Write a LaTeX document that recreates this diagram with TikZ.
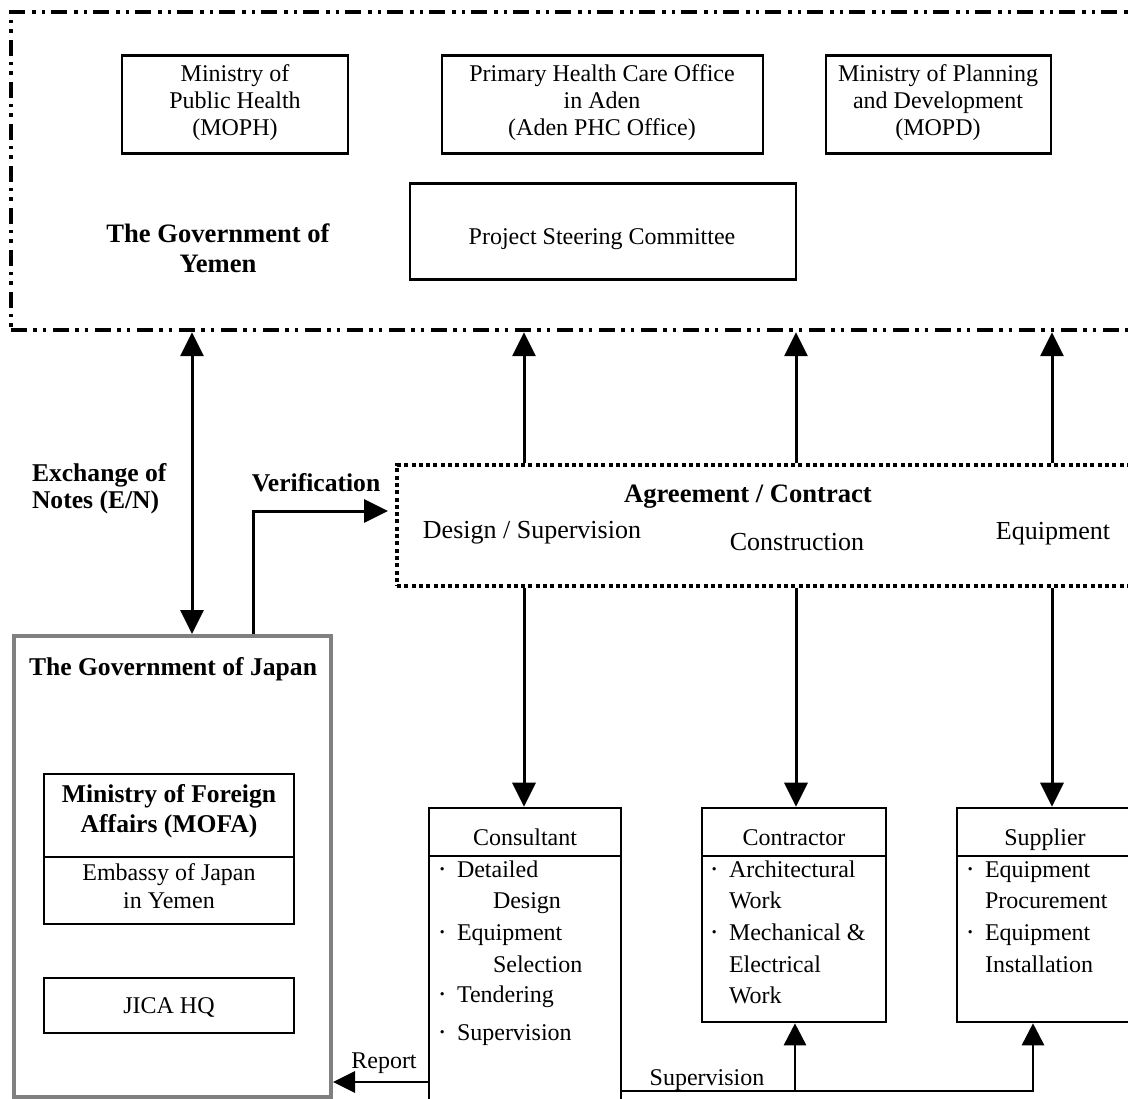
\documentclass[tikz,border=0pt]{standalone}
\usepackage{fontspec}
\setmainfont{Liberation Serif}
\usetikzlibrary{arrows.meta}
\newcommand{\mybul}{\llap{\raisebox{-1pt}{\fontsize{28}{28}\selectfont ·}\hspace{10pt}}}
\begin{document}
\begin{tikzpicture}[x=1pt,y=-1pt,
  frame/.style={draw, line width=2.6pt, inner sep=0pt},
  rt/.style={inner sep=0pt, outer sep=0pt, font=\fontsize{24}{27}\selectfont},
  bt/.style={inner sep=0pt, outer sep=0pt, font=\fontsize{25.6}{29}\selectfont\bfseries},
  bbig/.style={inner sep=0pt, outer sep=0pt, font=\fontsize{26.6}{30}\selectfont\bfseries},
  rbig/.style={inner sep=0pt, outer sep=0pt, font=\fontsize{26}{30}\selectfont},
  arr/.style={-{Triangle[length=24pt,width=23pt]}},
  conn/.style={line width=3pt, arr},
]
\useasboundingbox (0,0) rectangle (1128,1099);
\clip (0,0) rectangle (1128,1099);
\fill[white] (0,0) rectangle (1128,1099);

% ---------- Government of Yemen ----------
\node[frame, line width=4.5pt, dash pattern=on 16pt off 6pt on 3.5pt off 6pt on 3.5pt off 7pt,
      minimum width=1150pt, minimum height=318pt] (yemen) at (586,171) {};
\node[frame, minimum width=226pt, minimum height=98pt] (moph) at (235,104.5) {};
\node[frame, minimum width=321pt, minimum height=98pt] (phc) at (602.5,104.5) {};
\node[frame, minimum width=225pt, minimum height=98pt] (mopd) at (938.5,104.5) {};
\node[frame, minimum width=386pt, minimum height=96pt] (psc) at (603,231.5) {};

\node[rt, anchor=base] (moph1) at (235,82) {Ministry of};
\node[rt, anchor=base] (moph2) at (235,109) {Public Health};
\node[rt, anchor=base] (moph3) at (235,136) {(MOPH)};
\node[rt, anchor=base] (phc1) at (602,82) {Primary Health Care Office};
\node[rt, anchor=base] (phc2) at (602,109) {in Aden};
\node[rt, anchor=base] (phc3) at (602,136) {(Aden PHC Office)};
\node[rt, anchor=base] (mopd1) at (938,82) {Ministry of Planning};
\node[rt, anchor=base] (mopd2) at (938,109) {and Development};
\node[rt, anchor=base] (mopd3) at (938,136) {(MOPD)};
\node[rt, anchor=base] (psct) at (602,245) {Project Steering Committee};
\node[bbig, anchor=base] (gy1) at (218,243) {The Government of};
\node[bbig, anchor=base] (gy2) at (218,273) {Yemen};

% ---------- Agreement / Contract ----------
\node[draw, line width=3.5pt, dash pattern=on 4pt off 3.3pt, inner sep=0pt,
      minimum width=770pt, minimum height=121pt] (agr) at (782,525.5) {};
\node[bbig, anchor=base] (agrt) at (748,502) {Agreement / Contract};
\node[rbig, anchor=base] (ds) at (532,538) {Design / Supervision};
\node[rbig, anchor=base] (cn) at (797,550) {Construction};
\node[rbig, anchor=base] (eq) at (1053,539) {Equipment};

% ---------- Government of Japan ----------
\node[draw=gray, line width=4pt, inner sep=0pt, minimum width=317pt, minimum height=461pt] (japan) at (172.5,866.5) {};
\node[bt, anchor=base] (gj) at (173,675) {The Government of Japan};
\node[frame, minimum width=250pt, minimum height=83pt] (mofa) at (169,815.5) {};
\node[frame, minimum width=250pt, minimum height=67pt] (emb) at (169,890.5) {};
\node[frame, minimum width=250pt, minimum height=55pt] (jica) at (169,1005.5) {};
\node[bt, anchor=base] (mofa1) at (169,802) {Ministry of Foreign};
\node[bt, anchor=base] (mofa2) at (169,832) {Affairs (MOFA)};
\node[rt, anchor=base] (emb1) at (169,880) {Embassy of Japan};
\node[rt, anchor=base] (emb2) at (169,908) {in Yemen};
\node[rt, anchor=base] (jicat) at (169,1013) {JICA HQ};

% ---------- Consultant / Contractor / Supplier ----------
\node[frame, minimum width=192pt, minimum height=48pt] (conh) at (525,832) {};
\node[frame, minimum width=192pt, minimum height=264pt] (conb) at (525,988) {};
\node[frame, minimum width=184pt, minimum height=48pt] (cnth) at (794,832) {};
\node[frame, minimum width=184pt, minimum height=166pt] (cntb) at (794,939) {};
\node[frame, minimum width=173pt, minimum height=48pt] (suph) at (1043.5,832) {};
\node[frame, minimum width=173pt, minimum height=166pt] (supb) at (1043.5,939) {};

\node[rt, anchor=base] (conht) at (525,845) {Consultant};
\node[rt, anchor=base west] (c1) at (457,877) {\mybul Detailed};
\node[rt, anchor=base west] (c2) at (493,908) {Design};
\node[rt, anchor=base west] (c3) at (457,940) {\mybul Equipment};
\node[rt, anchor=base west] (c4) at (493,972) {Selection};
\node[rt, anchor=base west] (c5) at (457,1002) {\mybul Tendering};
\node[rt, anchor=base west] (c6) at (457,1040) {\mybul Supervision};

\node[rt, anchor=base] (cntht) at (794,845) {Contractor};
\node[rt, anchor=base west] (k1) at (729,877) {\mybul Architectural};
\node[rt, anchor=base west] (k2) at (729,908) {Work};
\node[rt, anchor=base west] (k3) at (729,940) {\mybul Mechanical \&};
\node[rt, anchor=base west] (k4) at (729,972) {Electrical};
\node[rt, anchor=base west] (k5) at (729,1003) {Work};

\node[rt, anchor=base] (supht) at (1045,845) {Supplier};
\node[rt, anchor=base west] (s1) at (985,877) {\mybul Equipment};
\node[rt, anchor=base west] (s2) at (985,908) {Procurement};
\node[rt, anchor=base west] (s3) at (985,940) {\mybul Equipment};
\node[rt, anchor=base west] (s4) at (985,972) {Installation};

% ---------- labels ----------
\node[bt, anchor=base west] (ex1) at (32,482) {Exchange of};
\node[bt, anchor=base west] (ex2) at (32,508) {Notes (E/N)};
\node[bt, anchor=base] (ver) at (316,491) {Verification};
\node[rt, anchor=base] (rep) at (384,1068) {Report};
\node[rt, anchor=base] (sup) at (707,1085) {Supervision};

% ---------- connectors ----------
\coordinate (xe) at (192,0);
\coordinate (xv) at (253,0);
\coordinate (xd) at (524,0);
\coordinate (xc) at (796,0);
\coordinate (xq) at (1052,0);
\coordinate (vend) at (388,511);
\coordinate (yr) at (0,1082);
\coordinate (ys) at (0,1091);
\coordinate (xs2) at (795,0);
\coordinate (xs3) at (1033,0);

\draw[line width=3pt, {Triangle[length=24pt,width=23pt]}-{Triangle[length=24pt,width=23pt]}]
  (xe |- yemen.south) -- (xe |- japan.north);
\draw[conn] (xv |- japan.north) |- (vend);
\foreach \p in {xd,xc,xq} \draw[conn] (\p |- agr.north) -- (\p |- yemen.south);
\draw[conn] (xd |- agr.south) -- (xd |- conh.north);
\draw[conn] (xc |- agr.south) -- (xc |- cnth.north);
\draw[conn] (xq |- agr.south) -- (xq |- suph.north);
\draw[line width=2.8pt, -{Triangle[length=22pt,width=21pt]}] (conb.west |- yr) -- (japan.east |- yr);
\draw[line width=2.8pt, -{Triangle[length=22pt,width=22pt]}] (conb.east |- ys) -| (xs3 |- supb.south);
\draw[line width=2.8pt, -{Triangle[length=22pt,width=22pt]}] (xs2 |- ys) -- (xs2 |- cntb.south);
\end{tikzpicture}
\end{document}
